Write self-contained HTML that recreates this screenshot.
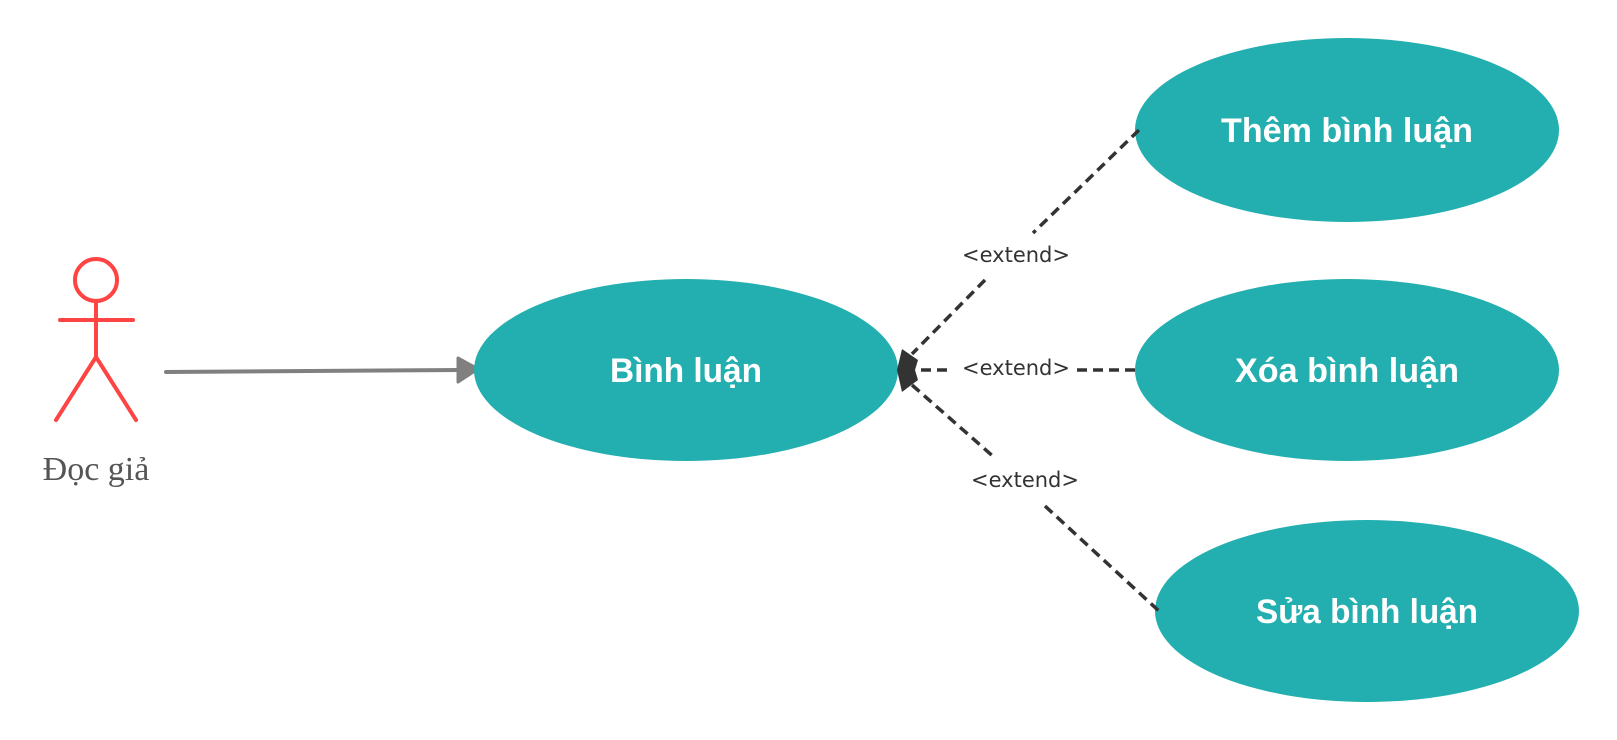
<!DOCTYPE html>
<html><head><meta charset="utf-8"><style>
html,body{margin:0;padding:0;background:#fff;}
svg{display:block}
</style></head><body>
<svg width="1617" height="740" viewBox="0 0 1617 740" xmlns="http://www.w3.org/2000/svg">
<!-- actor -->
<g stroke="#ff4444" stroke-width="4" fill="none" stroke-linecap="round">
<circle cx="96" cy="280" r="21"/>
<line x1="96" y1="301" x2="96" y2="357"/>
<line x1="60" y1="320" x2="133" y2="320"/>
<line x1="96" y1="357" x2="56" y2="420"/>
<line x1="96" y1="357" x2="136" y2="420"/>
</g>
<text x="96" y="480" text-anchor="middle" font-family="Liberation Serif, serif" font-size="34" fill="#555">Đọc giả</text>
<!-- association -->
<line x1="166" y1="372" x2="462" y2="370" stroke="#808080" stroke-width="4" stroke-linecap="round"/>
<polygon points="458,358 478,369 458,382" fill="#808080" stroke="#808080" stroke-width="3" stroke-linejoin="round"/>
<!-- ellipses -->
<g fill="#23afaf">
<ellipse cx="686" cy="370" rx="212" ry="91"/>
<ellipse cx="1347" cy="130" rx="212" ry="92"/>
<ellipse cx="1347" cy="370" rx="212" ry="91"/>
<ellipse cx="1367" cy="611" rx="212" ry="91"/>
</g>
<g font-family="Liberation Sans, sans-serif" font-weight="bold" font-size="34" fill="#fff" text-anchor="middle">
<text x="686" y="382" textLength="152" lengthAdjust="spacingAndGlyphs">Bình luận</text>
<text x="1347" y="142" textLength="252" lengthAdjust="spacingAndGlyphs">Thêm bình luận</text>
<text x="1347" y="382" textLength="224" lengthAdjust="spacingAndGlyphs">Xóa bình luận</text>
<text x="1367" y="623" textLength="222" lengthAdjust="spacingAndGlyphs">Sửa bình luận</text>
</g>
<!-- extend lines -->
<g stroke="#333" stroke-width="3.5" stroke-dasharray="10,6" fill="none">
<line x1="1139" y1="130" x2="1033" y2="233"/>
<line x1="985" y1="280" x2="912" y2="354"/>
<line x1="1135" y1="370" x2="1074" y2="370"/>
<line x1="947" y1="370" x2="916" y2="370"/>
<line x1="912" y1="385" x2="995" y2="458"/>
<line x1="1045" y1="506" x2="1160" y2="612"/>
</g>
<polygon points="897,370 902,349 918,360 915,370 918,380 902,392" fill="#333"/>
<g font-family="DejaVu Sans, sans-serif" font-size="21" fill="#333" text-anchor="middle">
<text x="1016" y="262">&lt;extend&gt;</text>
<text x="1016" y="375">&lt;extend&gt;</text>
<text x="1025" y="487">&lt;extend&gt;</text>
</g>
</svg>
</body></html>
